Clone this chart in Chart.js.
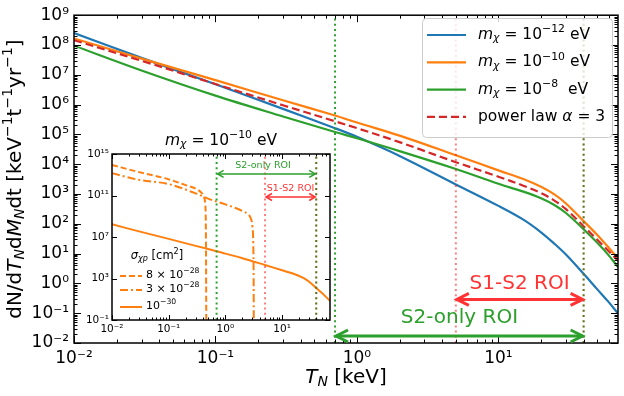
<!DOCTYPE html>
<html>
<head>
<meta charset="utf-8">
<script src="https://cdn.jsdelivr.net/npm/chart.js@4.4.1/dist/chart.umd.min.js"></script>
<style>
  html, body { margin: 0; padding: 0; background: #fff; }
  #wrap { position: relative; width: 624px; height: 396px; }
  #wrap canvas { position: absolute; left: 0; top: 0; }
</style>
</head>
<body>
<div id="wrap">
  <canvas id="main" width="624" height="396"></canvas>
  <canvas id="inset" width="624" height="396"></canvas>
</div>
<script>
var FONT = '"DejaVu Sans", sans-serif';

/* ---- main panel: recoil spectra, T_N in keV ---- */
var energy   = [0.01, 0.03, 0.1, 0.3, 0.7, 1, 2, 5, 10, 15, 20, 25, 30, 40, 50, 60, 70];
var rateM12  = [2.5e8, 3.7e7, 4.8e6, 7.2e5, 1.62e5, 8.3e4, 1.9e4, 2.1e3, 4.0e2, 1.38e2, 52, 21, 9.3, 2.1, 0.63, 0.24, 0.098];
var rateM10  = [1.66e8, 3.5e7, 6.6e6, 1.4e6, 4.3e5, 2.5e5, 9.1e4, 2.0e4, 6.2e3, 3.2e3, 1.74e3, 9.5e2, 4.8e2, 1.23e2, 42, 16, 6.8];
var rateM8   = [9.5e7, 1.4e7, 2.0e6, 4.0e5, 1.2e5, 7.4e4, 2.75e4, 6.9e3, 2.2e3, 1.2e3, 7.2e2, 4.2e2, 2.3e2, 66, 23, 8.9, 3.5];
var ratePow  = [1.45e8, 2.95e7, 4.9e6, 9.5e5, 2.75e5, 1.62e5, 5.5e4, 1.17e4, 3.8e3, 1.9e3, 1.07e3, 5.9e2, 3.1e2, 83, 29, 12.3, 5.8];

/* ---- inset: m_chi = 1e-10 eV, different cross sections ---- */
var energyS8  = [0.01, 0.03, 0.1, 0.2, 0.3, 0.38, 0.42, 0.44, 0.45, 0.455, 0.46];
var rateS8    = [8.7e13, 1.8e13, 3.6e12, 1.0e12, 4.5e11, 1.8e11, 7e10, 1.6e10, 1e9, 1e6, 0.05];
var energyS3  = [0.01, 0.03, 0.1, 0.3, 0.55, 1, 1.5, 2, 2.5, 2.8, 3.0, 3.1, 3.15, 3.17];
var rateS3    = [1.4e13, 3.2e12, 1.26e12, 1.6e11, 4e10, 1.4e10, 6.3e9, 3.2e9, 1.6e9, 6.3e8, 1e8, 3e6, 1e3, 0.03];
var rateS30   = rateM10;   // sigma = 1e-30 cm^2 is the same curve as the main orange one

/* ---- ROIs and axes ---- */
var roiS2   = [0.7, 40];
var roiS1S2 = [5, 40];
var mainXRange = [0.01, 70], mainYRange = [1e-2, 1e9];
var insetXRange = [0.01, 70], insetYRange = [1e-1, 1e15];
var mainXTicks = [0.01, 0.1, 1, 10];
var mainYTicks = [1e-2, 1e-1, 1, 1e1, 1e2, 1e3, 1e4, 1e5, 1e6, 1e7, 1e8, 1e9];
var insetXTicks = [0.01, 0.1, 1, 10];
var insetYTicks = [1e-1, 1e3, 1e7, 1e11, 1e15];

var C_BLUE = '#1f77b4', C_ORANGE = '#ff7f0e', C_GREEN = '#2ca02c', C_RED = '#d62728';
var C_ROI_RED = '#ff3333', C_VRED = 'rgba(255,0,0,0.5)', C_VRED2 = 'rgba(255,0,0,0.3)';

function pts(xs, ys) { return xs.map(function(x, i) { return {x: x, y: ys[i]}; }); }

var SUP = {'0':'⁰','1':'¹','2':'²','3':'³','4':'⁴','5':'⁵','6':'⁶','7':'⁷','8':'⁸','9':'⁹','-':'⁻'};
function powLabel(v) {
  var k = Math.round(Math.log10(v));
  return '10' + String(k).split('').map(function(c) { return SUP[c]; }).join('');
}
function fixTicks(list) { return function(scale) { scale.ticks = list.map(function(v) { return {value: v}; }); }; }
function minors(lo, hi) {
  var out = [];
  for (var k = Math.floor(Math.log10(lo)); k <= Math.ceil(Math.log10(hi)); k++)
    for (var m = 2; m < 10; m++) { var v = m * Math.pow(10, k); if (v > lo && v < hi) out.push(v); }
  return out;
}

/* mixed text: parts = [[text, style]], style '', 'i', 'sub', 'isub', 'sup' */
function rich(ctx, parts, x, y, size, align, color) {
  var items = [], w = 0;
  parts.forEach(function(p) {
    var st = p[1] || '';
    var small = st.indexOf('sub') >= 0 || st.indexOf('sup') >= 0;
    var fs = small ? size * 0.7 : size;
    var font = (st.charAt(0) === 'i' ? 'italic ' : '') + fs + 'px ' + FONT;
    ctx.font = font;
    var tw = ctx.measureText(p[0]).width;
    var dy = st.indexOf('sub') >= 0 ? size * 0.22 : (st === 'sup' ? -size * 0.36 : 0);
    items.push({t: p[0], font: font, w: tw, dy: dy});
    w += tw;
  });
  var cx = align === 'center' ? x - w / 2 : (align === 'right' ? x - w : x);
  ctx.fillStyle = color || '#000';
  ctx.textAlign = 'left';
  ctx.textBaseline = 'middle';
  items.forEach(function(it) { ctx.font = it.font; ctx.fillText(it.t, cx, y + it.dy); cx += it.w; });
}

function frameTicks(ctx, a, sx, sy, xMaj, xMin, yMaj, yMin, lMaj, lMin, lw) {
  ctx.setLineDash([]);
  ctx.strokeStyle = '#000';
  ctx.lineWidth = 1;
  function seg(x1, y1, x2, y2) { ctx.beginPath(); ctx.moveTo(x1, y1); ctx.lineTo(x2, y2); ctx.stroke(); }
  function tx(v, L) { var p = Math.round(sx.getPixelForValue(v)) + 0.5; seg(p, a.bottom, p, a.bottom - L); seg(p, a.top, p, a.top + L); }
  function ty(v, L) { var p = Math.round(sy.getPixelForValue(v)) + 0.5; seg(a.left, p, a.left + L, p); seg(a.right, p, a.right - L, p); }
  xMaj.forEach(function(v) { tx(v, lMaj); });
  xMin.forEach(function(v) { tx(v, lMin); });
  yMaj.forEach(function(v) { ty(v, lMaj); });
  yMin.forEach(function(v) { ty(v, lMin); });
  ctx.lineWidth = lw;
  ctx.strokeRect(a.left, a.top, a.right - a.left, a.bottom - a.top);
}

function arrow2(ctx, x1, x2, y, color, lw, hl, hw) {
  ctx.setLineDash([]);
  ctx.strokeStyle = color;
  ctx.lineWidth = lw;
  ctx.lineJoin = 'miter';
  ctx.beginPath(); ctx.moveTo(x1 + 1, y); ctx.lineTo(x2 - 1, y); ctx.stroke();
  ctx.beginPath();
  ctx.moveTo(x1 + hl, y - hw); ctx.lineTo(x1 + 1, y); ctx.lineTo(x1 + hl, y + hw);
  ctx.moveTo(x2 - hl, y - hw); ctx.lineTo(x2 - 1, y); ctx.lineTo(x2 - hl, y + hw);
  ctx.stroke();
}

function vline(x, yr, color, order) {
  return {data: [{x: x, y: yr[0]}, {x: x, y: yr[1]}], borderColor: color, borderWidth: 2,
          borderDash: [2, 3.2], pointRadius: 0, showLine: true, order: order};
}
function curve(xs, ys, color, dash, order, lw, smooth) {
  var ds = {data: pts(xs, ys), borderColor: color, borderWidth: lw || 2.2, borderDash: dash || [],
            pointRadius: 0, showLine: true, order: order};
  if (smooth === 'mono') ds.cubicInterpolationMode = 'monotone';
  else ds.tension = 0.35;
  return ds;
}

function axisOpts(range, ticks, size, pad, fit) {
  return {
    type: 'logarithmic', min: range[0], max: range[1],
    grid: {display: false, drawTicks: false}, border: {display: false},
    afterBuildTicks: fixTicks(ticks), afterFit: fit,
    ticks: {color: '#000', font: {family: FONT, size: size}, padding: pad, autoSkip: false,
            maxRotation: 0, callback: function(v) { return powLabel(v); }}
  };
}

/* ---- legend entries ---- */
var mainLegend = [
  {color: C_BLUE, dash: [], parts: [['m', 'i'], ['χ', 'isub'], [' = 10'], ['−12', 'sup'], [' eV']]},
  {color: C_ORANGE, dash: [], parts: [['m', 'i'], ['χ', 'isub'], [' = 10'], ['−10', 'sup'], [' eV']]},
  {color: C_GREEN, dash: [], parts: [['m', 'i'], ['χ', 'isub'], [' = 10'], ['−8', 'sup'], ['  eV']]},
  {color: C_RED, dash: [8, 4], parts: [['power law '], ['α', 'i'], [' = 3']]}
];
var insetLegend = [
  {dash: [6, 3], parts: [['8 × 10'], ['−28', 'sup']]},
  {dash: [8, 3, 2, 3], parts: [['3 × 10'], ['−28', 'sup']]},
  {dash: [], parts: [['10'], ['−30', 'sup']]}
];

var mainDecor = {
  id: 'mainDecor',
  afterDraw: function(chart) {
    var ctx = chart.ctx, a = chart.chartArea, sx = chart.scales.x, sy = chart.scales.y;
    ctx.save();
    frameTicks(ctx, a, sx, sy, mainXTicks, minors(mainXRange[0], mainXRange[1]),
               mainYTicks, minors(mainYRange[0], mainYRange[1]), 7, 3.5, 1.5);

    // ROI arrows and labels
    var xr1 = sx.getPixelForValue(roiS1S2[0]), xr2 = sx.getPixelForValue(roiS1S2[1]);
    var xg1 = sx.getPixelForValue(roiS2[0]), xg2 = sx.getPixelForValue(roiS2[1]);
    arrow2(ctx, xr1, xr2, sy.getPixelForValue(0.29), C_ROI_RED, 3, 13, 6);
    arrow2(ctx, xg1, xg2, sy.getPixelForValue(0.0172), C_GREEN, 3, 13, 6);
    rich(ctx, [['S1-S2 ROI']], sx.getPixelForValue(14.1), sy.getPixelForValue(1.0), 20, 'center', C_ROI_RED);
    rich(ctx, [['S2-only ROI']], sx.getPixelForValue(5.3), sy.getPixelForValue(0.068), 20, 'center', C_GREEN);

    // legend
    var lx = 422, ly = 18, lw = 190, lh = 119;
    ctx.beginPath();
    ctx.roundRect(lx + 0.5, ly + 0.5, lw, lh, 4);
    ctx.fillStyle = 'rgba(255,255,255,0.8)';
    ctx.fill();
    ctx.strokeStyle = '#cccccc';
    ctx.lineWidth = 1;
    ctx.stroke();
    mainLegend.forEach(function(e, i) {
      var y = 35 + i * 27.3;
      ctx.setLineDash(e.dash);
      ctx.strokeStyle = e.color;
      ctx.lineWidth = 2.2;
      ctx.beginPath(); ctx.moveTo(427, y); ctx.lineTo(466, y); ctx.stroke();
      ctx.setLineDash([]);
      rich(ctx, e.parts, 478, y, 15.5, 'left', '#000');
    });

    // axis titles
    rich(ctx, [['T', 'i'], ['N', 'isub'], [' [keV]']], (a.left + a.right) / 2, 378, 20, 'center', '#000');
    ctx.save();
    ctx.translate(16, (a.top + a.bottom) / 2);
    ctx.rotate(-Math.PI / 2);
    rich(ctx, [['dN/d'], ['T', 'i'], ['N', 'isub'], ['d'], ['M', 'i'], ['N', 'isub'], ['dt [keV'], ['−1', 'sup'],
               ['t'], ['−1', 'sup'], ['yr'], ['−1', 'sup'], [']']], 0, 0, 20, 'center', '#000');
    ctx.restore();
    ctx.restore();
  }
};

var insetDecor = {
  id: 'insetDecor',
  beforeDatasetsDraw: function(chart) {
    var ctx = chart.ctx, a = chart.chartArea;
    ctx.save();
    ctx.fillStyle = '#fff';
    ctx.fillRect(a.left, a.top, a.right - a.left, a.bottom - a.top);
    ctx.restore();
  },
  afterDraw: function(chart) {
    var ctx = chart.ctx, a = chart.chartArea, sx = chart.scales.x, sy = chart.scales.y;
    ctx.save();
    frameTicks(ctx, a, sx, sy, insetXTicks, minors(insetXRange[0], insetXRange[1]),
               insetYTicks, [], 5, 2.5, 1.5);

    var xr1 = sx.getPixelForValue(roiS1S2[0]), xr2 = sx.getPixelForValue(roiS1S2[1]);
    var xg1 = sx.getPixelForValue(roiS2[0]), xg2 = sx.getPixelForValue(roiS2[1]);
    arrow2(ctx, xg1, xg2, sy.getPixelForValue(1.2e13), C_GREEN, 1.5, 7, 3.5);
    arrow2(ctx, xr1, xr2, sy.getPixelForValue(7.2e10), C_ROI_RED, 1.5, 7, 3.5);
    rich(ctx, [['S2-only ROI']], sx.getPixelForValue(4.6), sy.getPixelForValue(7e13), 9.5, 'center', C_GREEN);
    rich(ctx, [['S1-S2 ROI']], sx.getPixelForValue(14.1), sy.getPixelForValue(5.2e11), 9.5, 'center', C_ROI_RED);

    // title
    rich(ctx, [['m', 'i'], ['χ', 'isub'], [' = 10'], ['−10', 'sup'], [' eV']], (a.left + a.right) / 2, 141, 15.5, 'center', '#000');

    // legend (no frame)
    rich(ctx, [['σ', 'i'], ['χp', 'isub'], [' [cm'], ['2', 'sup'], [']']], 157, 256, 11.5, 'center', '#000');
    var ys = [276, 290, 307];
    insetLegend.forEach(function(e, i) {
      ctx.setLineDash(e.dash);
      ctx.strokeStyle = C_ORANGE;
      ctx.lineWidth = 2;
      ctx.beginPath(); ctx.moveTo(120, ys[i]); ctx.lineTo(142, ys[i]); ctx.stroke();
      ctx.setLineDash([]);
      rich(ctx, e.parts, 146, ys[i] - 1, 11, 'left', '#000');
    });
    ctx.restore();
  }
};

new Chart(document.getElementById('main'), {
  type: 'scatter',
  data: {
    datasets: [
      vline(roiS2[0], mainYRange, C_GREEN, 1),
      vline(roiS2[1], mainYRange, C_GREEN, 1),
      vline(roiS1S2[0], mainYRange, C_VRED, 0),
      vline(roiS1S2[1], mainYRange, C_VRED2, 0),
      curve(energy, ratePow, C_RED, [8, 4], 2),
      curve(energy, rateM8, C_GREEN, [], 3),
      curve(energy, rateM10, C_ORANGE, [], 4),
      curve(energy, rateM12, C_BLUE, [], 5)
    ]
  },
  options: {
    responsive: false, animation: false, devicePixelRatio: 1,
    layout: {padding: {top: 12, right: 6, left: 0, bottom: 0}},
    plugins: {legend: {display: false}, tooltip: {enabled: false}},
    scales: {
      x: axisOpts(mainXRange, mainXTicks, 17, 5, function(s) { s.height = 53; }),
      y: axisOpts(mainYRange, mainYTicks, 17, 5, function(s) { s.width = 74; })
    }
  },
  plugins: [mainDecor]
});

new Chart(document.getElementById('inset'), {
  type: 'scatter',
  data: {
    datasets: [
      vline(roiS2[0], insetYRange, C_GREEN, 1),
      vline(roiS2[1], insetYRange, C_GREEN, 1),
      vline(roiS1S2[0], insetYRange, C_VRED, 0),
      vline(roiS1S2[1], insetYRange, C_VRED2, 0),
      curve(energy, rateS30, C_ORANGE, [], 2, 2),
      curve(energyS3, rateS3, C_ORANGE, [8, 3, 2, 3], 3, 2, 'mono'),
      curve(energyS8, rateS8, C_ORANGE, [6, 3], 4, 2, 'mono')
    ]
  },
  options: {
    responsive: false, animation: false, devicePixelRatio: 1,
    layout: {padding: {top: 154, right: 294, left: 0, bottom: 0}},
    plugins: {legend: {display: false}, tooltip: {enabled: false}},
    scales: {
      x: axisOpts(insetXRange, insetXTicks, 10.5, 3, function(s) { s.height = 76; }),
      y: axisOpts(insetYRange, insetYTicks, 10.5, 3, function(s) { s.width = 112; })
    }
  },
  plugins: [insetDecor]
});
</script>
</body>
</html>
